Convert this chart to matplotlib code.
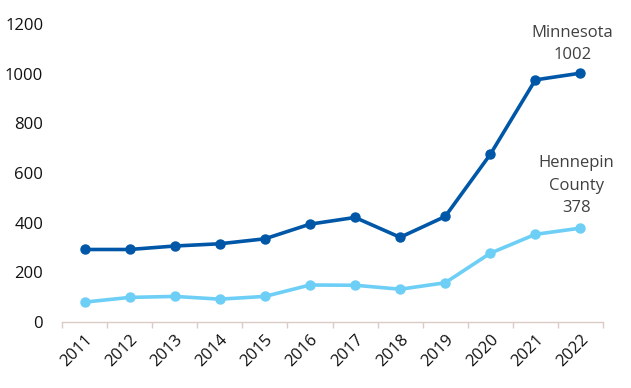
import matplotlib
matplotlib.use("Agg")
import matplotlib.pyplot as plt
import numpy as np

years = ["2011", "2012", "2013", "2014", "2015", "2016", "2017", "2018", "2019", "2020", "2021", "2022"]
minnesota = [292, 292, 306, 315, 335, 394, 421, 341, 425, 675, 975, 1002]
hennepin = [80, 99, 103, 92, 103, 149, 148, 132, 158, 277, 353, 378]
yticks = [0, 200, 400, 600, 800, 1000, 1200]

dark = "#0057A8"
light = "#6DCFF6"
axis_col = "#D9CBC6"

plt.rcParams['font.family'] = ['Open Sans', 'DejaVu Sans']

fig = plt.figure(figsize=(6.31, 3.88), dpi=100)
ax = fig.add_axes([62/631, 1-322/388, (603-62)/631, (322-24)/388])

x = np.arange(len(years))
ax.plot(x, minnesota, color=dark, lw=2.6, marker='o', ms=6.5, zorder=3)
ax.plot(x, hennepin, color=light, lw=2.6, marker='o', ms=6.5, zorder=3)

ax.set_xlim(-0.5, len(years) - 0.5)
ax.set_ylim(0, 1200)
ax.set_yticks(yticks)
ax.set_yticklabels([str(v) for v in yticks], fontsize=12, color="#111111")
ax.tick_params(axis='y', length=0, pad=13.5)

ax.set_xticks(x)
ax.set_xticklabels(years, rotation=45, ha='right', rotation_mode='anchor', fontsize=12, color="#111111")
ax.tick_params(axis='x', which='major', length=0, pad=7)
ax.set_xticks(np.arange(len(years) + 1) - 0.5, minor=True)
ax.tick_params(axis='x', which='minor', length=4, width=1, color=axis_col, direction='out')

for s in ['top', 'right', 'left']:
    ax.spines[s].set_visible(False)
ax.spines['bottom'].set_color(axis_col)
ax.spines['bottom'].set_linewidth(1)

ax.annotate(f"Minnesota\n{minnesota[-1]}", xy=(x[-1], minnesota[-1]), xytext=(-8, 10),
            textcoords='offset pixels', ha='center', va='bottom', fontsize=12,
            color="#404040", linespacing=1.55, annotation_clip=False)
ax.annotate(f"Hennepin\nCounty\n{hennepin[-1]}", xy=(x[-1], hennepin[-1]), xytext=(-4, 12),
            textcoords='offset pixels', ha='center', va='bottom', fontsize=12,
            color="#404040", linespacing=1.55, annotation_clip=False)

fig.savefig("out.png", dpi=100)
